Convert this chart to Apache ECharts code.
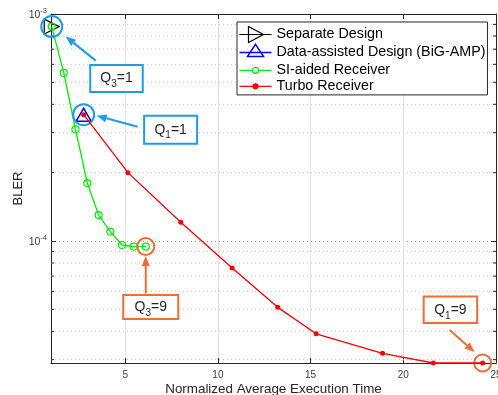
<!DOCTYPE html>
<html>
<head>
<meta charset="utf-8">
<script src="https://cdn.jsdelivr.net/npm/echarts@6/dist/echarts.min.js"></script>
<style>
  html, body { margin: 0; padding: 0; background: #fff; }
  #chart { width: 498px; height: 395px; }
</style>
</head>
<body>
<div id="chart"></div>
<script>
// values
var sepX = [1.04];
var sepY = [8.8e-4];
var bigampX = [2.76];
var bigampY = [3.6e-4];
var siX = [1.04, 1.69, 2.32, 2.96, 3.57, 4.20, 4.83, 5.46, 6.11];
var siY = [8.8e-4, 5.5e-4, 3.1e-4, 1.8e-4, 1.3e-4, 1.1e-4, 9.6e-5, 9.45e-5, 9.45e-5];
var turboX = [2.76, 5.15, 8.0, 10.77, 13.23, 15.30, 18.88, 21.62, 24.28];
var turboY = [3.6e-4, 2.0e-4, 1.21e-4, 7.6e-5, 5.1e-5, 3.9e-5, 3.2e-5, 2.9e-5, 2.9e-5];
var xTickLabels = [5, 10, 15, 20, 25];
var minorY = [9e-4, 8e-4, 7e-4, 6e-4, 5e-4, 4e-4, 3e-4, 2e-4,
              9e-5, 8e-5, 7e-5, 6e-5, 5e-5, 4e-5, 3e-5];

var font = '"Liberation Sans", Arial, Helvetica, sans-serif';
var xMin = 1, xMax = 25, yMin = 2.9e-5, yMax = 1e-3;
var axisCol = '#262626';
var blue = '#1f9be8', orange = '#f26d35';

function pairs(xs, ys) {
  return xs.map(function (x, i) { return [x, ys[i]]; });
}

// minor log grid: dotted line across plus short inner ticks on both sides
function renderMinor(params, api) {
  var v = api.value(1);
  var a = api.coord([xMin, v]);
  var b = api.coord([xMax, v]);
  return {
    type: 'group',
    children: [
      { type: 'line', shape: { x1: a[0], y1: a[1], x2: b[0], y2: b[1] },
        style: { stroke: '#c4c4c4', lineWidth: 1, lineDash: [1, 3] } },
      { type: 'line', shape: { x1: a[0], y1: a[1], x2: a[0] + 3, y2: a[1] },
        style: { stroke: axisCol, lineWidth: 1 } },
      { type: 'line', shape: { x1: b[0] - 3, y1: b[1], x2: b[0], y2: b[1] },
        style: { stroke: axisCol, lineWidth: 1 } }
    ]
  };
}

var myecharts = echarts.init(document.getElementById('chart'));
var option = {
  animation: false,
  backgroundColor: '#fff',
  textStyle: { fontFamily: font },
  grid: { left: 51, right: 2, top: 14, bottom: 32, containLabel: false, outerBoundsMode: 'none' },
  legend: {
    orient: 'vertical',
    left: 237,
    top: 22,
    padding: [2, 2, 0, 0],
    itemGap: -3.1,
    itemWidth: 32,
    itemHeight: 16,
    borderColor: axisCol,
    borderWidth: 1,
    backgroundColor: '#fff',
    textStyle: { fontSize: 14.3, color: '#000', fontFamily: font },
    data: [
      { name: 'Separate Design', icon: 'path://M0 8 L32 8 M9 0 L24 8 L9 16 Z',
        itemStyle: { color: 'none', borderColor: '#000', borderWidth: 1.2 } },
      { name: 'Data-assisted Design (BiG-AMP)', icon: 'path://M0 16 M0 8 L32 8 M16 0 L24 12 L8 12 Z',
        itemStyle: { color: 'none', borderColor: '#0000ff', borderWidth: 1.5 } },
      { name: 'SI-aided Receiver', icon: 'path://M0 16 M0 0 M0 8 L13 8 M19 8 L32 8 M13 8 A3 3 0 1 1 19 8 A3 3 0 1 1 13 8',
        itemStyle: { color: 'none', borderColor: '#00ee00', borderWidth: 1.2 } },
      { name: 'Turbo Receiver', icon: 'path://M0 16 M0 0 M0 8 L32 8 M13.5 8 A2.5 2.5 0 1 1 18.5 8 A2.5 2.5 0 1 1 13.5 8 Z',
        itemStyle: { color: '#ff0000', borderColor: '#ff0000', borderWidth: 1.2 } }
    ]
  },
  xAxis: [{
    type: 'value', min: xMin, max: xMax, splitNumber: 5,
    name: 'Normalized Average Execution Time', nameLocation: 'middle', nameGap: 20,
    nameMoveOverlap: false,
    nameTextStyle: { fontSize: 13.4, color: '#262626', fontFamily: font },
    axisLine: { lineStyle: { color: axisCol, width: 1 } },
    axisTick: { inside: true, length: 5, lineStyle: { color: axisCol } },
    axisLabel: {
      margin: 7, fontSize: 10, color: '#404040', showMinLabel: false,
      formatter: function (v) { return xTickLabels.indexOf(v) >= 0 ? String(v) : ''; }
    },
    splitLine: { show: true, lineStyle: { color: '#e2e2e2', width: 1 } }
  }, {
    type: 'value', min: xMin, max: xMax, splitNumber: 5, position: 'top',
    axisLine: { show: true, lineStyle: { color: axisCol, width: 1 } },
    axisTick: { inside: true, length: 5, lineStyle: { color: axisCol } },
    axisLabel: { show: false },
    splitLine: { show: false }
  }],
  yAxis: [{
    type: 'log', logBase: 10, min: yMin, max: yMax,
    name: 'BLER', nameLocation: 'middle', nameGap: 26, nameRotate: 90,
    nameMoveOverlap: false,
    nameTextStyle: { fontSize: 13, color: '#262626', fontFamily: font },
    axisLine: { show: true, lineStyle: { color: axisCol, width: 1 } },
    axisTick: { inside: true, length: 5, lineStyle: { color: axisCol } },
    axisLabel: {
      margin: 4, showMinLabel: false,
      formatter: function (v) {
        var e = Math.round(Math.log10(v));
        if (Math.abs(Math.log10(v) - e) > 1e-6) return '';
        return '{b|10}{s|' + e + '}';
      },
      rich: {
        b: { fontSize: 10.5, color: '#404040', fontFamily: font, verticalAlign: 'bottom' },
        s: { fontSize: 7.5, color: '#404040', fontFamily: font, verticalAlign: 'bottom', padding: [0, 0, 6, 0] }
      }
    },
    splitLine: { show: true, lineStyle: { color: '#9a9a9a', type: [1, 3], width: 1 } }
  }, {
    type: 'log', logBase: 10, min: yMin, max: yMax, position: 'right',
    axisLine: { show: true, lineStyle: { color: axisCol, width: 1 } },
    axisTick: { inside: true, length: 5, lineStyle: { color: axisCol } },
    axisLabel: { show: false },
    splitLine: { show: false }
  }],
  series: [
    {
      name: 'minor grid', type: 'custom', silent: true, z: 1, clip: false,
      data: minorY.map(function (v) { return [xMin, v]; }),
      encode: { x: 0, y: 1 },
      renderItem: renderMinor
    },
    {
      name: 'Separate Design', type: 'line', clip: false, z: 3,
      data: pairs(sepX, sepY),
      symbol: 'path://M0 0 L14 8 L0 16 Z', symbolSize: [15, 15],
      lineStyle: { color: '#000', width: 1 },
      itemStyle: { color: 'none', borderColor: '#000', borderWidth: 1.2 },
      markPoint: {
        silent: true, symbol: 'circle', symbolSize: 21, label: { show: false },
        itemStyle: { color: 'none', borderColor: blue, borderWidth: 2 },
        data: [{ coord: [sepX[0], sepY[0]] }]
      }
    },
    {
      name: 'Data-assisted Design (BiG-AMP)', type: 'line', clip: false, z: 3,
      data: pairs(bigampX, bigampY),
      symbol: 'triangle', symbolSize: [15, 13],
      lineStyle: { color: '#0000ff', width: 1 },
      itemStyle: { color: 'none', borderColor: '#0000ff', borderWidth: 1.5 },
      markPoint: {
        silent: true, symbol: 'circle', symbolSize: 21, label: { show: false },
        itemStyle: { color: 'none', borderColor: blue, borderWidth: 2 },
        data: [{ coord: [bigampX[0], bigampY[0]] }]
      }
    },
    {
      name: 'SI-aided Receiver', type: 'line', clip: false, z: 4,
      data: pairs(siX, siY),
      symbol: 'circle', symbolSize: 7, showAllSymbol: true,
      lineStyle: { color: '#00ee00', width: 1.3 },
      itemStyle: { color: 'none', borderColor: '#00ee00', borderWidth: 1.2 },
      markPoint: {
        silent: true, symbol: 'circle', symbolSize: 17, label: { show: false },
        itemStyle: { color: 'none', borderColor: orange, borderWidth: 2 },
        data: [{ coord: [siX[siX.length - 1], siY[siY.length - 1]] }]
      }
    },
    {
      name: 'Turbo Receiver', type: 'line', clip: false, z: 5,
      data: pairs(turboX, turboY),
      symbol: 'circle', symbolSize: 5, showAllSymbol: true,
      lineStyle: { color: '#ff0000', width: 1.3 },
      itemStyle: { color: '#ff0000' },
      markPoint: {
        silent: true, symbol: 'circle', symbolSize: 17, label: { show: false },
        itemStyle: { color: 'none', borderColor: orange, borderWidth: 2 },
        data: [{ coord: [turboX[turboX.length - 1], turboY[turboY.length - 1]] }]
      }
    }
  ]
};
myecharts.setOption(option);

// callouts: boxes and arrows placed relative to the point they point at
function arrow(x1, y1, x2, y2, color) {
  var a = Math.atan2(y2 - y1, x2 - x1), L = 10, W = 4;
  var bx = x2 - L * Math.cos(a), by = y2 - L * Math.sin(a);
  return [
    { type: 'line', silent: true, z: 50, shape: { x1: x1, y1: y1, x2: bx, y2: by },
      style: { stroke: color, lineWidth: 2 } },
    { type: 'polygon', silent: true, z: 50,
      shape: { points: [[x2, y2], [bx + W * Math.sin(a), by - W * Math.cos(a)], [bx - W * Math.sin(a), by + W * Math.cos(a)]] },
      style: { fill: color } }
  ];
}
function box(x, y, w, h, sub, val, color) {
  return [
    { type: 'rect', silent: true, z: 50, shape: { x: x, y: y, width: w, height: h },
      style: { fill: '#fff', stroke: color, lineWidth: 2 } },
    { type: 'text', silent: true, z: 51,
      style: {
        x: x + w / 2, y: y + h / 2 + 2, align: 'center', verticalAlign: 'middle',
        text: '{q|Q}{s|' + sub + '}{q|=' + val + '}',
        rich: {
          q: { fontSize: 14, fill: '#262626', fontFamily: font, verticalAlign: 'bottom', padding: [0, 0, 4, 0] },
          s: { fontSize: 10, fill: '#262626', fontFamily: font, verticalAlign: 'bottom' }
        }
      } }
  ];
}

function px(x, y) { return myecharts.convertToPixel({ gridIndex: 0 }, [x, y]); }
var pSep = px(sepX[0], sepY[0]);
var pBig = px(bigampX[0], bigampY[0]);
var pSi = px(siX[siX.length - 1], siY[siY.length - 1]);
var pTu = px(turboX[turboX.length - 1], turboY[turboY.length - 1]);

var g = [];
g = g.concat(arrow(pSep[0] + 44, pSep[1] + 34, pSep[0] + 14, pSep[1] + 10, blue));
g = g.concat(box(pSep[0] + 38.5, pSep[1] + 38.5, 52.5, 27, 3, 1, blue));
g = g.concat(arrow(pBig[0] + 54, pBig[1] + 12, pBig[0] + 13, pBig[1] + 1, blue));
g = g.concat(box(pBig[0] + 60.5, pBig[1] + 1, 53, 28, 1, 1, blue));
g = g.concat(arrow(pSi[0], pSi[1] + 47, pSi[0], pSi[1] + 9.5, orange));
g = g.concat(box(pSi[0] - 22.5, pSi[1] + 48.5, 55, 24, 3, 9, orange));
g = g.concat(arrow(pTu[0] - 33, pTu[1] - 33, pTu[0] - 8, pTu[1] - 11, orange));
g = g.concat(box(pTu[0] - 59, pTu[1] - 66.5, 53.5, 26.5, 1, 9, orange));

myecharts.setOption({ graphic: g });
</script>
</body>
</html>
